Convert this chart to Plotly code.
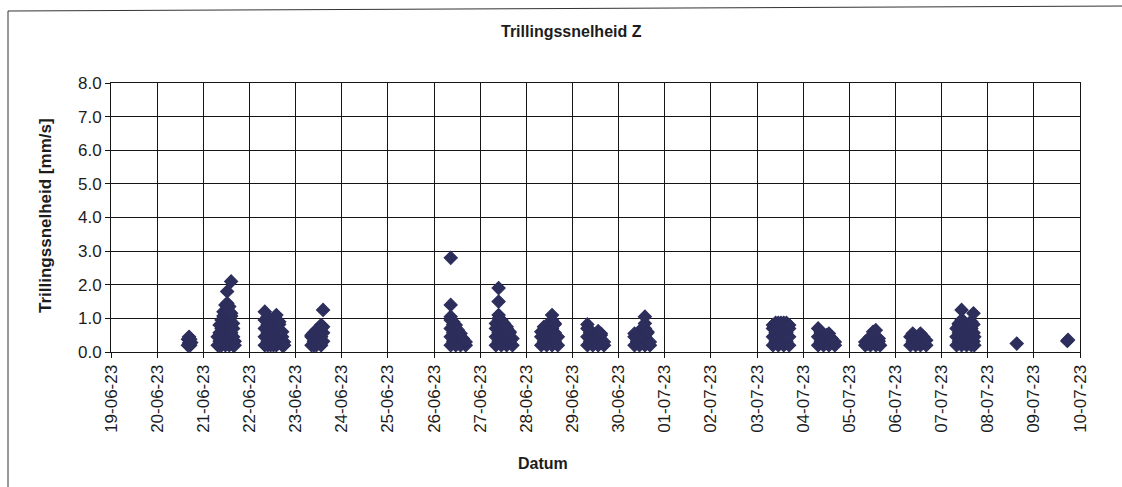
import pandas as pd
import plotly.graph_objects as go

# ---- data: per measuring day, hour of day and vibration velocity [mm/s] ----
day_2006 = "2023-06-20"
h_2006 = [16.0, 16.0, 16.6, 16.6, 17.2, 17.2, 17.7]
v_2006 = [0.2, 0.38, 0.27, 0.45, 0.2, 0.38, 0.28]

day_2106 = "2023-06-21"
h_2106 = [7.5, 7.5,
          8.5, 8.5, 8.5, 8.5,
          9.5, 9.5, 9.5, 9.5,
          10.5, 10.5, 10.5, 10.5, 10.5,
          11.5, 11.5, 11.5, 11.5, 11.5, 11.5,
          12.5, 12.5, 12.5, 12.5, 12.5, 12.5, 12.4,
          13.5, 13.5, 13.5, 13.5, 13.5, 13.5,
          14.5, 14.5, 14.5, 14.5, 14.5, 14.5,
          15.5, 15.5, 15.5, 15.5,
          16.3, 16.3]
v_2106 = [0.2, 0.45,
          0.32, 0.57, 0.8, 0.2,
          0.2, 0.45, 0.7, 0.95,
          0.32, 0.57, 0.82, 1.07, 1.2,
          0.2, 0.45, 0.7, 0.95, 1.2, 1.4,
          0.32, 0.57, 0.82, 1.07, 1.3, 1.45, 1.8,
          0.2, 0.45, 0.7, 0.95, 1.2, 1.35,
          0.32, 0.57, 0.82, 1.07, 1.15, 2.1,
          0.2, 0.45, 0.7, 0.85,
          0.32, 0.2]

day_2206 = "2023-06-22"
h_2206 = [8, 8, 8, 8, 8,
          9.5, 9.5, 9.5, 9.5, 9.5,
          11, 11, 11, 11,
          12.5, 12.5, 12.5, 12.5, 12.5,
          14, 14, 14, 14, 14,
          15.5, 15.5, 15.5, 15.5,
          17, 17, 17,
          18, 18]
v_2206 = [0.2, 0.45, 0.7, 0.95, 1.2,
          0.32, 0.57, 0.82, 1.05, 0.2,
          0.2, 0.45, 0.7, 0.95,
          0.32, 0.57, 0.82, 1.0, 0.2,
          0.2, 0.45, 0.7, 0.95, 1.1,
          0.32, 0.57, 0.82, 0.9,
          0.2, 0.45, 0.6,
          0.3, 0.2]

day_2306 = "2023-06-23"
h_2306 = [8.3, 8.3, 8.3,
          9.5, 9.5, 9.5,
          10.8, 10.8, 10.8,
          12, 12, 12,
          13.3, 13.3, 13.3, 13.3,
          14.3, 14.3, 14.3, 14.3]
v_2306 = [0.2, 0.45, 0.5,
          0.32, 0.57, 0.2,
          0.2, 0.45, 0.65,
          0.32, 0.57, 0.7,
          0.2, 0.45, 0.7, 0.8,
          0.32, 0.57, 0.75, 1.25]

day_2606 = "2023-06-26"
h_2606 = [8.7, 8.7, 8.7, 8.7, 8.7, 8.7, 8.7,
          10, 10, 10, 10,
          11.3, 11.3, 11.3, 11.3,
          12.5, 12.5, 12.5,
          13.8, 13.8, 13.8,
          15, 15,
          16.5, 16.5]
v_2606 = [0.2, 0.45, 0.7, 0.95, 1.05, 1.4, 2.8,
          0.32, 0.57, 0.82, 0.9,
          0.2, 0.45, 0.7, 0.8,
          0.32, 0.57, 0.65,
          0.2, 0.45, 0.55,
          0.32, 0.4,
          0.2, 0.3]

day_2706 = "2023-06-27"
h_2706 = [8.2, 8.2, 8.2, 8.2,
          9.6, 9.6, 9.6, 9.6, 9.6, 9.6, 9.6,
          11, 11, 11, 11,
          12.4, 12.4, 12.4, 12.4,
          13.8, 13.8, 13.8, 13.8,
          15.3, 15.3, 15.3,
          16.8, 16.8]
v_2706 = [0.2, 0.45, 0.7, 0.85,
          0.32, 0.57, 0.82, 1.0, 1.1, 1.5, 1.9,
          0.2, 0.45, 0.7, 0.95,
          0.32, 0.57, 0.82, 0.85,
          0.2, 0.45, 0.7, 0.75,
          0.32, 0.57, 0.6,
          0.2, 0.4]

day_2806 = "2023-06-28"
h_2806 = [7.8, 7.8, 7.8,
          9.2, 9.2, 9.2,
          10.6, 10.6, 10.6,
          12, 12, 12, 12,
          13.4, 13.4, 13.4, 13.4, 13.4,
          14.8, 14.8, 14.8, 14.8,
          16.4, 16.4]
v_2806 = [0.2, 0.45, 0.6,
          0.32, 0.57, 0.75,
          0.2, 0.45, 0.6,
          0.32, 0.57, 0.82, 0.85,
          0.2, 0.45, 0.7, 0.95, 1.1,
          0.32, 0.57, 0.82, 0.85,
          0.2, 0.45]

day_2906 = "2023-06-29"
h_2906 = [7.8, 7.8, 7.8, 7.8,
          9.2, 9.2, 9.2,
          10.6, 10.6,
          12, 12,
          13.4, 13.4, 13.4,
          14.8, 14.8, 14.8,
          16.4, 16.4]
v_2906 = [0.2, 0.45, 0.7, 0.82,
          0.32, 0.57, 0.65,
          0.2, 0.4,
          0.32, 0.4,
          0.2, 0.45, 0.62,
          0.32, 0.5, 0.55,
          0.2, 0.3]

day_3006 = "2023-06-30"
h_3006 = [8.3, 8.3, 8.3,
          9.6, 9.6,
          10.9, 10.9, 10.9,
          12.3, 12.3, 12.3,
          13.7, 13.7, 13.7, 13.7, 13.7,
          15, 15, 15,
          16.3, 16.3]
v_3006 = [0.2, 0.45, 0.55,
          0.32, 0.45,
          0.2, 0.45, 0.5,
          0.32, 0.57, 0.7,
          0.2, 0.45, 0.7, 0.85, 1.05,
          0.32, 0.57, 0.6,
          0.2, 0.3]

day_0307 = "2023-07-03"
h_0307 = [8.3, 8.3, 8.3, 8.3,
          9.7, 9.7, 9.7, 9.7,
          11.1, 11.1, 11.1, 11.1,
          12.5, 12.5, 12.5, 12.5,
          13.9, 13.9, 13.9, 13.9,
          15.3, 15.3, 15.3, 15.3,
          16.7, 16.7, 16.7, 16.7]
v_0307 = [0.2, 0.45, 0.7, 0.8,
          0.32, 0.57, 0.82, 0.87,
          0.2, 0.45, 0.7, 0.87,
          0.32, 0.57, 0.82, 0.87,
          0.2, 0.45, 0.7, 0.87,
          0.32, 0.57, 0.82, 0.87,
          0.2, 0.45, 0.7, 0.8]

day_0407 = "2023-07-04"
h_0407 = [7.8, 7.8, 7.8,
          9.2, 9.2, 9.2,
          10.6, 10.6,
          12, 12, 12,
          13.4, 13.4, 13.4,
          14.8, 14.8,
          16.5, 16.5]
v_0407 = [0.2, 0.45, 0.7,
          0.32, 0.57, 0.6,
          0.2, 0.45,
          0.32, 0.45, 0.5,
          0.2, 0.45, 0.55,
          0.32, 0.4,
          0.2, 0.3]

day_0507 = "2023-07-05"
h_0507 = [8.3, 8.3,
          9.6, 9.6,
          11, 11,
          12.4, 12.4, 12.4,
          13.8, 13.8, 13.8,
          15.3, 15.3,
          16]
v_0507 = [0.2, 0.3,
          0.25, 0.35,
          0.2, 0.45,
          0.32, 0.5, 0.6,
          0.2, 0.45, 0.65,
          0.32, 0.4,
          0.2]

day_0607 = "2023-07-06"
h_0607 = [7.8, 7.8,
          9, 9, 9,
          10.5, 10.5,
          12, 12,
          13, 13, 13,
          14.5, 14.5,
          16, 16]
v_0607 = [0.2, 0.45,
          0.32, 0.45, 0.55,
          0.2, 0.45,
          0.32, 0.45,
          0.2, 0.45, 0.55,
          0.32, 0.45,
          0.2, 0.35]

day_0707 = "2023-07-07"
h_0707 = [7.8, 7.8, 7.8,
          9, 9, 9, 9,
          10.4, 10.4, 10.4, 10.4, 10.4,
          11.7, 11.7, 11.7, 11.7,
          13, 13, 13,
          14.3, 14.3, 14.3, 14.3,
          15.5, 15.5, 15.5, 15.5,
          16.6, 16.6, 16.6, 16.6,
          17, 17]
v_0707 = [0.2, 0.45, 0.7,
          0.32, 0.57, 0.82, 0.85,
          0.2, 0.45, 0.7, 0.95, 1.25,
          0.32, 0.57, 0.82, 0.9,
          0.2, 0.45, 0.7,
          0.32, 0.57, 0.82, 0.85,
          0.2, 0.45, 0.7, 0.9,
          0.32, 0.57, 0.82, 1.15,
          0.2, 0.45]

day_0807 = "2023-07-08"
h_0807 = [15.1]
v_0807 = [0.25]

day_0907 = "2023-07-09"
h_0907 = [17.4, 17.8]
v_0907 = [0.33, 0.36]

days = [day_2006, day_2106, day_2206, day_2306, day_2606, day_2706, day_2806,
        day_2906, day_3006, day_0307, day_0407, day_0507, day_0607, day_0707,
        day_0807, day_0907]
hours = [h_2006, h_2106, h_2206, h_2306, h_2606, h_2706, h_2806,
         h_2906, h_3006, h_0307, h_0407, h_0507, h_0607, h_0707,
         h_0807, h_0907]
values = [v_2006, v_2106, v_2206, v_2306, v_2606, v_2706, v_2806,
          v_2906, v_3006, v_0307, v_0407, v_0507, v_0607, v_0707,
          v_0807, v_0907]

x_start = "2023-06-19"
x_end = "2023-07-10"
y_ticks = [0, 1, 2, 3, 4, 5, 6, 7, 8]

title_text = "Trillingssnelheid Z"
y_title = "Trillingssnelheid [mm/s]"
x_title = "Datum"

# ---- build ----
xs, ys = [], []
for d, hh, vv in zip(days, hours, values):
    base = pd.Timestamp(d)
    xs.extend([base + pd.Timedelta(hours=h) for h in hh])
    ys.extend(vv)

W, H = 1122, 487
L, R, T, B = 111, 42, 83, 135
pw, ph = W - L - R, H - T - B


def px_x(p):
    return (p - L) / pw


def px_y(p):
    return (H - B - p) / ph


FONT = "Liberation Sans, Arial, sans-serif"
INK = "#1c1c1c"
GRID = "#151515"

fig = go.Figure()
fig.add_trace(go.Scatter(
    x=xs, y=ys, mode="markers",
    marker=dict(symbol="diamond", size=10, color="#2d2e5c",
                line=dict(width=1.2, color="#2d2e5c")),
    showlegend=False, cliponaxis=True,
))

fig.update_layout(
    width=W, height=H,
    margin=dict(l=L, r=R, t=T, b=B, pad=0),
    paper_bgcolor="white", plot_bgcolor="white",
    font=dict(family=FONT, color=INK),
    showlegend=False,
)
fig.update_xaxes(
    type="date", range=[x_start, x_end],
    dtick=86400000, tick0=x_start, tickformat="%d-%m-%y",
    tickangle=-90, tickfont=dict(size=17, color=INK, family=FONT),
    showgrid=True, gridcolor=GRID, gridwidth=1,
    showline=True, linecolor=GRID, linewidth=1, mirror=True,
    ticks="outside", ticklen=5, tickcolor=GRID,
    zeroline=False,
)
fig.update_yaxes(
    range=[0, 8], tickvals=y_ticks, tickformat=".1f",
    tickfont=dict(size=17, color=INK, family=FONT),
    showgrid=True, gridcolor=GRID, gridwidth=1,
    showline=True, linecolor=GRID, linewidth=1, mirror=True,
    ticks="outside", ticklen=5, tickcolor=GRID,
    zeroline=False,
)

fig.add_annotation(text="<b>" + title_text + "</b>", xref="paper", yref="paper",
                   x=px_x(571), y=px_y(32), xanchor="center", yanchor="middle",
                   showarrow=False, font=dict(size=16, color=INK, family=FONT))
fig.add_annotation(text="<b>" + x_title + "</b>", xref="paper", yref="paper",
                   x=px_x(543), y=px_y(463), xanchor="center", yanchor="middle",
                   showarrow=False, font=dict(size=16, color=INK, family=FONT))
fig.add_annotation(text="<b>" + y_title + "</b>", xref="paper", yref="paper",
                   x=px_x(45), y=px_y(216), xanchor="center", yanchor="middle",
                   textangle=-90, showarrow=False,
                   font=dict(size=17, color=INK, family=FONT))

# outer chart frame (left and top edges visible in the scan)
frame = "M {} {} L {} {} L {} {}".format(
    px_x(8), px_y(520), px_x(8), px_y(11), px_x(1130), px_y(6))
fig.add_shape(type="path", xref="paper", yref="paper", path=frame,
              line=dict(color="#333333", width=1), layer="below")

fig.write_html("out.html",
               config={"displayModeBar": False},
               post_script="document.body.style.margin='0px';"
                           "document.body.style.overflow='hidden';")
